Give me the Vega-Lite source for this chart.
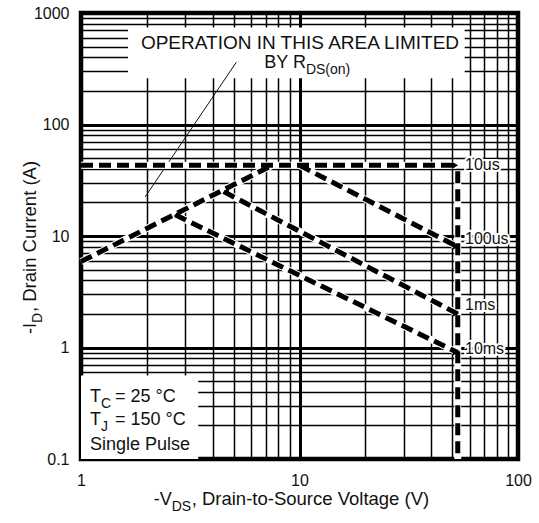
{
  "$schema": "https://vega.github.io/schema/vega-lite/v6.json",
  "width": 437,
  "height": 446,
  "autosize": "none",
  "padding": {"left": 81, "top": 13, "right": 21, "bottom": 64},
  "background": "white",
  "config": {
    "view": {"stroke": "black", "strokeWidth": 4.5},
    "font": "Liberation Sans",
    "text": {"font": "Liberation Sans", "color": "#111"}
  },
  "datasets": {
    "boxes": [
      {"x": 1.64, "x2": 57, "y": 260, "y2": 740},
      {"x": 1, "x2": 3.44, "y": 0.1, "y2": 0.56}
    ],
    "pointer": [
      {"x": 1.966, "y": 22.4},
      {"x": 5.14, "y": 362}
    ],
    "lines": [
      {"series": "rds", "order": 0, "x": 1, "y": 5.9},
      {"series": "rds", "order": 1, "x": 7.5, "y": 43},
      {"series": "10us", "order": 0, "x": 1, "y": 43},
      {"series": "10us", "order": 1, "x": 52, "y": 43},
      {"series": "edge", "order": 0, "x": 53, "y": 38},
      {"series": "edge", "order": 1, "x": 53, "y": 0.1},
      {"series": "100us", "order": 0, "x": 10, "y": 43},
      {"series": "100us", "order": 1, "x": 53, "y": 8},
      {"series": "1ms", "order": 0, "x": 4.5, "y": 25},
      {"series": "1ms", "order": 1, "x": 53, "y": 2},
      {"series": "10ms", "order": 0, "x": 2.7, "y": 15.5},
      {"series": "10ms", "order": 1, "x": 53, "y": 0.9}
    ],
    "arrows": [
      {"x": 51.5, "y": 43, "end": "end"},
      {"x": 52, "y": 8.1, "end": "end"},
      {"x": 52, "y": 2.03, "end": "end"},
      {"x": 52, "y": 0.91, "end": "end"},
      {"x": 4.6, "y": 24.6, "end": "start"},
      {"x": 2.75, "y": 15.3, "end": "start"}
    ],
    "labels": [
      {"x": 57.2, "y": 43.6, "label": "10us"},
      {"x": 57.2, "y": 9.4, "label": "100us"},
      {"x": 57.2, "y": 2.4, "label": "1ms"},
      {"x": 57.2, "y": 0.96, "label": "10ms"}
    ]
  },
  "layer": [
    {
      "data": {"name": "boxes"},
      "mark": {"type": "rect", "color": "white"},
      "encoding": {
        "x": {
          "field": "x", "type": "quantitative",
          "scale": {"type": "log", "domain": [1, 100], "nice": false},
          "axis": {
            "title": null,
            "values": [1, 2, 3, 4, 5, 6, 7, 8, 9, 10, 20, 30, 40, 50, 60, 70, 80, 90, 100],
            "labelExpr": "indexof([1,10,100], datum.value) >= 0 ? '' + datum.value : ''",
            "labelOverlap": false,
            "labelBound": false,
            "labelFlush": false,
            "labelFont": "Liberation Sans",
            "labelFontSize": 16,
            "labelColor": "#111",
            "labelPadding": 13,
            "ticks": false,
            "domain": false,
            "grid": true,
            "gridColor": "#000",
            "gridOpacity": 1,
            "gridWidth": {"condition": {"test": "indexof([1,10,100], datum.value) >= 0", "value": 3}, "value": 1.5}
          }
        },
        "x2": {"field": "x2"},
        "y": {
          "field": "y", "type": "quantitative",
          "scale": {"type": "log", "domain": [0.1, 1000], "nice": false},
          "axis": {
            "title": null,
            "values": [0.1, 0.2, 0.3, 0.4, 0.5, 0.6, 0.7, 0.8, 0.9, 1, 2, 3, 4, 5, 6, 7, 8, 9, 10, 20, 30, 40, 50, 60, 70, 80, 90, 100, 200, 300, 400, 500, 600, 700, 800, 900, 1000],
            "labelExpr": "indexof([0.1,1,10,100,1000], datum.value) >= 0 ? '' + datum.value : ''",
            "labelOverlap": false,
            "labelBound": false,
            "labelFlush": false,
            "labelFont": "Liberation Sans",
            "labelFontSize": 16,
            "labelColor": "#111",
            "labelPadding": 12,
            "ticks": false,
            "domain": false,
            "grid": true,
            "gridColor": "#000",
            "gridOpacity": 1,
            "gridWidth": {"condition": {"test": "indexof([0.1,1,10,100,1000], datum.value) >= 0", "value": 3}, "value": 1.5}
          }
        },
        "y2": {"field": "y2"}
      }
    },
    {
      "data": {"name": "pointer"},
      "mark": {"type": "line", "color": "#111", "strokeWidth": 1},
      "encoding": {
        "x": {"field": "x", "type": "quantitative"},
        "y": {"field": "y", "type": "quantitative"}
      }
    },
    {
      "data": {"name": "lines"},
      "mark": {"type": "line", "color": "white", "strokeWidth": 7, "strokeCap": "butt"},
      "encoding": {
        "x": {"field": "x", "type": "quantitative"},
        "y": {"field": "y", "type": "quantitative"},
        "detail": {"field": "series"},
        "order": {"field": "order"}
      }
    },
    {
      "data": {"name": "lines"},
      "mark": {"type": "line", "color": "black", "strokeWidth": 5, "strokeDash": [12, 6], "strokeCap": "butt"},
      "encoding": {
        "x": {"field": "x", "type": "quantitative"},
        "y": {"field": "y", "type": "quantitative"},
        "detail": {"field": "series"},
        "order": {"field": "order"}
      }
    },
    {
      "data": {"name": "arrows"},
      "mark": {"type": "point", "filled": true, "color": "black", "size": 50, "opacity": 1},
      "encoding": {
        "x": {"field": "x", "type": "quantitative"},
        "y": {"field": "y", "type": "quantitative"},
        "shape": {"field": "end", "type": "nominal", "scale": {"domain": ["start", "end"], "range": ["triangle-left", "triangle-right"]}, "legend": null}
      }
    },
    {
      "data": {"name": "labels"},
      "mark": {"type": "text", "align": "left", "baseline": "middle", "fontSize": 16, "stroke": "white", "strokeWidth": 4, "color": "white"},
      "encoding": {
        "x": {"field": "x", "type": "quantitative"},
        "y": {"field": "y", "type": "quantitative"},
        "text": {"field": "label"}
      }
    },
    {
      "data": {"name": "labels"},
      "mark": {"type": "text", "align": "left", "baseline": "middle", "fontSize": 16, "color": "#111"},
      "encoding": {
        "x": {"field": "x", "type": "quantitative"},
        "y": {"field": "y", "type": "quantitative"},
        "text": {"field": "label"}
      }
    },
    {
      "data": {"values": [{}]},
      "mark": {"type": "text", "text": "OPERATION IN THIS AREA LIMITED", "align": "center", "baseline": "alphabetic", "fontSize": 19},
      "encoding": {"x": {"datum": 10.05, "type": "quantitative"}, "y": {"datum": 471, "type": "quantitative"}}
    },
    {
      "data": {"values": [{}]},
      "mark": {"type": "text", "text": "BY R", "align": "right", "baseline": "alphabetic", "fontSize": 18},
      "encoding": {"x": {"datum": 10.7, "type": "quantitative"}, "y": {"datum": 318, "type": "quantitative"}}
    },
    {
      "data": {"values": [{}]},
      "mark": {"type": "text", "text": "DS(on)", "align": "left", "baseline": "alphabetic", "fontSize": 14, "dy": 6},
      "encoding": {"x": {"datum": 10.7, "type": "quantitative"}, "y": {"datum": 318, "type": "quantitative"}}
    },
    {
      "data": {"values": [{}]},
      "mark": {"type": "text", "text": "T", "align": "left", "baseline": "alphabetic", "fontSize": 18},
      "encoding": {"x": {"datum": 1.1, "type": "quantitative"}, "y": {"datum": 0.324, "type": "quantitative"}}
    },
    {
      "data": {"values": [{}]},
      "mark": {"type": "text", "text": "C", "align": "left", "baseline": "alphabetic", "fontSize": 14, "dx": 11, "dy": 6},
      "encoding": {"x": {"datum": 1.1, "type": "quantitative"}, "y": {"datum": 0.324, "type": "quantitative"}}
    },
    {
      "data": {"values": [{}]},
      "mark": {"type": "text", "text": "= 25 °C", "align": "left", "baseline": "alphabetic", "fontSize": 18, "dx": 25},
      "encoding": {"x": {"datum": 1.1, "type": "quantitative"}, "y": {"datum": 0.324, "type": "quantitative"}}
    },
    {
      "data": {"values": [{}]},
      "mark": {"type": "text", "text": "T", "align": "left", "baseline": "alphabetic", "fontSize": 18},
      "encoding": {"x": {"datum": 1.1, "type": "quantitative"}, "y": {"datum": 0.202, "type": "quantitative"}}
    },
    {
      "data": {"values": [{}]},
      "mark": {"type": "text", "text": "J", "align": "left", "baseline": "alphabetic", "fontSize": 14, "dx": 11, "dy": 6},
      "encoding": {"x": {"datum": 1.1, "type": "quantitative"}, "y": {"datum": 0.202, "type": "quantitative"}}
    },
    {
      "data": {"values": [{}]},
      "mark": {"type": "text", "text": "= 150 °C", "align": "left", "baseline": "alphabetic", "fontSize": 18, "dx": 25},
      "encoding": {"x": {"datum": 1.1, "type": "quantitative"}, "y": {"datum": 0.202, "type": "quantitative"}}
    },
    {
      "data": {"values": [{}]},
      "mark": {"type": "text", "text": "Single Pulse", "align": "left", "baseline": "alphabetic", "fontSize": 18},
      "encoding": {"x": {"datum": 1.1, "type": "quantitative"}, "y": {"datum": 0.12, "type": "quantitative"}}
    },
    {
      "data": {"values": [{}]},
      "mark": {"type": "text", "text": "-V", "align": "right", "baseline": "alphabetic", "fontSize": 18},
      "encoding": {"x": {"datum": 2.6, "type": "quantitative"}, "y": {"datum": 0.0387, "type": "quantitative"}}
    },
    {
      "data": {"values": [{}]},
      "mark": {"type": "text", "text": "DS", "align": "left", "baseline": "alphabetic", "fontSize": 14, "dy": 6},
      "encoding": {"x": {"datum": 2.6, "type": "quantitative"}, "y": {"datum": 0.0387, "type": "quantitative"}}
    },
    {
      "data": {"values": [{}]},
      "mark": {"type": "text", "text": ", Drain-to-Source Voltage (V)", "align": "left", "baseline": "alphabetic", "fontSize": 18.5, "dx": 20},
      "encoding": {"x": {"datum": 2.6, "type": "quantitative"}, "y": {"datum": 0.0387, "type": "quantitative"}}
    },
    {
      "data": {"values": [{}]},
      "mark": {"type": "text", "text": "-I", "align": "right", "baseline": "alphabetic", "fontSize": 18, "angle": 270},
      "encoding": {"x": {"datum": 0.622, "type": "quantitative"}, "y": {"datum": 1.658, "type": "quantitative"}}
    },
    {
      "data": {"values": [{}]},
      "mark": {"type": "text", "text": "D", "align": "left", "baseline": "alphabetic", "fontSize": 14, "angle": 270, "dy": 6},
      "encoding": {"x": {"datum": 0.622, "type": "quantitative"}, "y": {"datum": 1.658, "type": "quantitative"}}
    },
    {
      "data": {"values": [{}]},
      "mark": {"type": "text", "text": ", Drain Current (A)", "align": "left", "baseline": "alphabetic", "fontSize": 18.5, "angle": 270, "dx": 11},
      "encoding": {"x": {"datum": 0.622, "type": "quantitative"}, "y": {"datum": 1.658, "type": "quantitative"}}
    }
  ]
}
